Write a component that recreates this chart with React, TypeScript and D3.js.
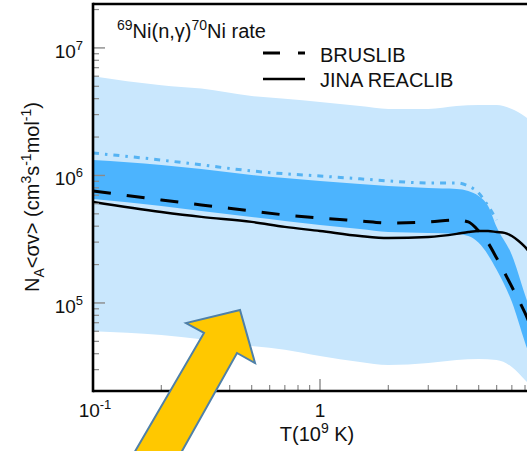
import React from "react";
import * as d3 from "d3";

// light band (full uncertainty range)
const lightT = [0.1, 0.2, 0.3, 0.5, 0.7, 1, 1.5, 2, 3, 4, 5, 6, 7, 8, 10];
const lightHi = [6.0e6, 5.1e6, 4.8e6, 4.2e6, 4.0e6, 3.77e6, 3.5e6, 3.32e6, 3.32e6, 3.5e6, 3.57e6, 3.57e6, 3.32e6, 2.9e6, 1.9e6];
const lightLo = [6.0e4, 5.6e4, 5.2e4, 4.6e4, 4.3e4, 3.84e4, 3.44e4, 3.26e4, 3.38e4, 3.57e4, 3.64e4, 3.57e4, 3.15e4, 2.49e4, 1.58e4];

// dark band
const darkT = [0.1, 0.2, 0.3, 0.5, 0.7, 1, 1.5, 2, 3, 4, 4.5, 5, 5.5, 6, 7, 8, 9, 10];
const darkHi = [1.32e6, 1.21e6, 1.125e6, 1.01e6, 9.56e5, 9.06e5, 8.58e5, 8.27e5, 7.98e5, 7.84e5, 7.56e5, 6.9e5, 5.76e5, 3.95e5, 2.38e5, 1.16e5, 6.1e4, 3.3e4];
const darkLo = [6.54e5, 5.76e5, 5.27e5, 4.73e5, 4.4e5, 4.09e5, 3.8e5, 3.6e5, 3.54e5, 3.48e5, 3.35e5, 2.96e5, 2.38e5, 1.82e5, 1.02e5, 4.9e4, 2.7e4, 1.6e4];

// dash-dot upper curve
const dotT = [0.1, 0.2, 0.3, 0.5, 0.7, 1, 1.5, 2, 3, 4, 4.5, 5, 5.5, 6];
const dotV = [1.5e6, 1.32e6, 1.21e6, 1.085e6, 1.03e6, 9.9e5, 9.4e5, 9.06e5, 8.73e5, 8.73e5, 8.27e5, 7.29e5, 5.76e5, 4.48e5];

// JINA REACLIB
const jinaT = [0.1, 0.2, 0.3, 0.5, 0.7, 1, 1.5, 2, 3, 4, 4.5, 5, 5.5, 6, 6.5, 7, 7.5, 8, 9, 10];
const jinaV = [6.19e5, 5.17e5, 4.73e5, 4.32e5, 3.95e5, 3.67e5, 3.35e5, 3.23e5, 3.29e5, 3.48e5, 3.6e5, 3.67e5, 3.67e5, 3.6e5, 3.54e5, 3.35e5, 3.06e5, 2.75e5, 2.1e5, 1.66e5];

// BRUSLIB
const brusT = [0.1, 0.2, 0.3, 0.5, 0.7, 1, 1.5, 2, 3, 4, 4.5, 5, 5.5, 6, 7, 8, 9, 10];
const brusV = [7.56e5, 6.42e5, 5.87e5, 5.27e5, 4.9e5, 4.64e5, 4.4e5, 4.24e5, 4.32e5, 4.48e5, 4.32e5, 3.67e5, 2.96e5, 2.25e5, 1.34e5, 8.35e4, 5.1e4, 3.3e4];

const yMajor = [1e5, 1e6, 1e7];
const yMajorExp = ["5", "6", "7"];
const xMajor = [0.1, 1];

export default function App() {
  const W = 527, H = 451;
  const left = 93, top = 4, bottom = 391;

  const x = d3.scaleLog().domain([0.1, 10]).range([left, 547]);
  const y = d3.scaleLog().domain([2.04e4, 2.21e7]).range([bottom, top]);

  const band = (T: number[], lo: number[], hi: number[]) =>
    d3.area<number>()
      .x(d => x(d))
      .y0((d, i) => y(lo[i]))
      .y1((d, i) => y(hi[i]))
      .curve(d3.curveMonotoneX)(T) || "";

  const line = (T: number[], v: number[]) =>
    d3.line<number>()
      .x((d, i) => x(T[i]))
      .y(d => y(d))
      .curve(d3.curveMonotoneX)(v) || "";

  const yMinor: number[] = [];
  [1e4, 1e5, 1e6, 1e7].forEach(b => {
    for (let k = 2; k <= 9; k++) {
      const v = b * k;
      if (v > 2.04e4 && v < 2.21e7) yMinor.push(v);
    }
  });
  const xMinor: number[] = [];
  [0.1, 1].forEach(b => {
    for (let k = 2; k <= 9; k++) xMinor.push(b * k);
  });

  const font = "'Liberation Sans', Arial, sans-serif";
  const tickCol = "#8a8a8a";

  return (
    <svg width={W} height={H} style={{position: "absolute", left: 0, top: 0, background: "#fff"}}
         fontFamily={font}>
      <defs>
        <clipPath id="plot">
          <rect x={left} y={top} width={547 - left} height={bottom - top}/>
        </clipPath>
      </defs>
      <g clipPath="url(#plot)">
        <path d={band(lightT, lightLo, lightHi)} fill="#c9e7fd"/>
        <path d={band(darkT, darkLo, darkHi)} fill="#4cb4fe"/>
        <path d={line(dotT, dotV)} fill="none" stroke="#55b3f3" strokeWidth={3}
              strokeDasharray="6,6,2.5,6"/>
        <path d={line(jinaT, jinaV)} fill="none" stroke="#000" strokeWidth={2.4}/>
        <path d={line(brusT, brusV)} fill="none" stroke="#000" strokeWidth={3}
              strokeDasharray="18,16"/>
      </g>

      {/* ticks */}
      {yMinor.map(v => (
        <line key={"ym" + v} x1={left} x2={left + 6} y1={y(v)} y2={y(v)} stroke={tickCol} strokeWidth={1.2}/>
      ))}
      {yMajor.map(v => (
        <line key={"yM" + v} x1={left} x2={left + 12} y1={y(v)} y2={y(v)} stroke={tickCol} strokeWidth={1.4}/>
      ))}
      {xMinor.map(v => (
        <line key={"xm" + v} x1={x(v)} x2={x(v)} y1={bottom} y2={bottom - 6} stroke={tickCol} strokeWidth={1.2}/>
      ))}
      {xMajor.map(v => (
        <line key={"xM" + v} x1={x(v)} x2={x(v)} y1={bottom} y2={bottom - 12} stroke={tickCol} strokeWidth={1.4}/>
      ))}

      {/* frame */}
      <line x1={left} x2={W} y1={top} y2={top} stroke="#000" strokeWidth={2.6}/>
      <line x1={left} x2={W} y1={bottom} y2={bottom} stroke="#000" strokeWidth={2.6}/>
      <line x1={left} x2={left} y1={top - 1.3} y2={bottom + 1.3} stroke="#000" strokeWidth={2.6}/>

      {/* y tick labels */}
      {yMajor.map((v, i) => (
        <text key={"yl" + v} x={83} y={y(v) + 10} textAnchor="end" fontSize={19} fill="#111">
          10<tspan dy={-8} fontSize={13}>{yMajorExp[i]}</tspan>
        </text>
      ))}

      {/* x tick labels */}
      <text x={x(0.1) + 2} y={417} textAnchor="middle" fontSize={19} fill="#111">
        10<tspan dy={-8} fontSize={13}>-1</tspan>
      </text>
      <text x={x(1)} y={417} textAnchor="middle" fontSize={19} fill="#111">1</text>

      {/* axis titles */}
      <text x={317} y={441} textAnchor="middle" fontSize={20} fill="#111">
        T(10<tspan dy={-8} fontSize={14}>9</tspan><tspan dy={8}> K)</tspan>
      </text>
      <text transform="translate(39,197) rotate(-90)" textAnchor="middle" fontSize={20} fill="#111">
        N<tspan dy={5} fontSize={14}>A</tspan>
        <tspan dy={-5}>&lt;σv&gt; (cm</tspan>
        <tspan dy={-8} fontSize={14}>3</tspan>
        <tspan dy={8}>s</tspan>
        <tspan dy={-8} fontSize={14}>-1</tspan>
        <tspan dy={8}>mol</tspan>
        <tspan dy={-8} fontSize={14}>-1</tspan>
        <tspan dy={8}>)</tspan>
      </text>

      {/* title */}
      <text x={117} y={38} fontSize={20} fill="#111">
        <tspan dy={-8} fontSize={14}>69</tspan>
        <tspan dy={8}>Ni(n,γ)</tspan>
        <tspan dy={-8} fontSize={14}>70</tspan>
        <tspan dy={8}>Ni rate</tspan>
      </text>

      {/* legend */}
      <line x1={263} x2={305} y1={53} y2={53} stroke="#000" strokeWidth={3} strokeDasharray="17,18"/>
      <text x={320} y={62} fontSize={20} fill="#111">BRUSLIB</text>
      <line x1={263} x2={305} y1={79} y2={79} stroke="#000" strokeWidth={2.6}/>
      <text x={320} y={87} fontSize={20} fill="#111">JINA REACLIB</text>

      {/* arrow annotation */}
      <polygon
        points="240,310 186,323 204,333 130,460 177,460 237,353 255,363"
        fill="#ffc800" stroke="#4f80a8" strokeWidth={2} strokeLinejoin="miter"/>
    </svg>
  );
}
